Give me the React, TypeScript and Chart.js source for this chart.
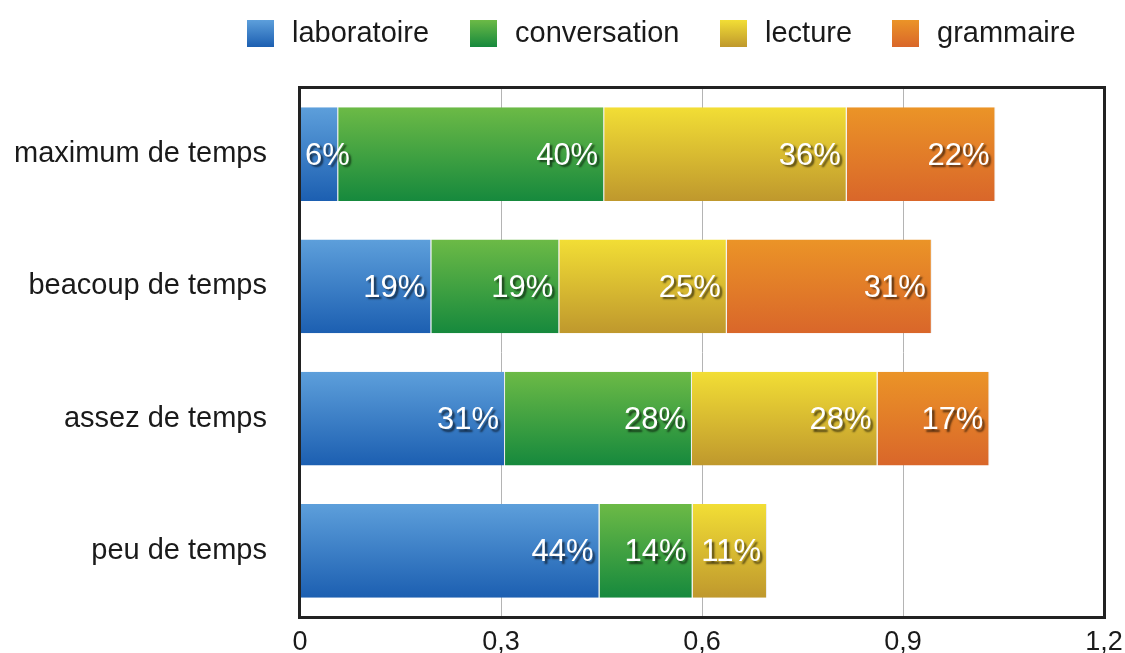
import React, { useEffect, useRef } from "react";
import { Chart, registerables } from "chart.js";

Chart.register(...registerables);

const categories = ["maximum de temps", "beacoup de temps", "assez de temps", "peu de temps"];
const seriesNames = ["laboratoire", "conversation", "lecture", "grammaire"];
const laboratoire = [0.057, 0.196, 0.306, 0.447];
const conversation = [0.397, 0.191, 0.279, 0.139];
const lecture = [0.362, 0.25, 0.277, 0.111];
const grammaire = [0.222, 0.306, 0.167, 0];
const laboratoireLabels = ["6%", "19%", "31%", "44%"];
const conversationLabels = ["40%", "19%", "28%", "14%"];
const lectureLabels = ["36%", "25%", "28%", "11%"];
const grammaireLabels = ["22%", "31%", "17%", ""];
const xTicks = [0, 0.3, 0.6, 0.9, 1.2];

const gradients: [string, string][] = [
  ["#5d9fdb", "#1c5fb1"],
  ["#6cba46", "#16893d"],
  ["#f2de35", "#bf982d"],
  ["#eb9427", "#d9662a"],
];

const FONT = "'Liberation Sans', Arial, Helvetica, sans-serif";
const BAR_PCT = 0.71;

export default function App() {
  const ref = useRef<HTMLCanvasElement | null>(null);

  useEffect(() => {
    document.body.style.margin = "0";
    const canvas = ref.current;
    if (!canvas) return;
    const values = [laboratoire, conversation, lecture, grammaire];
    const texts = [laboratoireLabels, conversationLabels, lectureLabels, grammaireLabels];

    const makeBg = (i: number) => (ctx: any) => {
      const chart = ctx.chart;
      const ys = chart.scales && chart.scales.y;
      if (!chart.chartArea || !ys || ctx.dataIndex === undefined) return gradients[i][1];
      const center = ys.getPixelForValue(ctx.dataIndex);
      const cat = (chart.chartArea.bottom - chart.chartArea.top) / categories.length;
      const h = cat * BAR_PCT;
      const g = chart.ctx.createLinearGradient(0, center - h / 2, 0, center + h / 2);
      g.addColorStop(0, gradients[i][0]);
      g.addColorStop(1, gradients[i][1]);
      return g;
    };

    const legendPlugin = {
      id: "customLegend",
      afterDraw(chart: any) {
        const c = chart.ctx;
        const boxX = [247, 470, 720, 892];
        c.save();
        c.font = `29px ${FONT}`;
        c.textBaseline = "middle";
        c.textAlign = "left";
        seriesNames.forEach((name, i) => {
          const x = boxX[i];
          const g = c.createLinearGradient(0, 20, 0, 47);
          g.addColorStop(0, gradients[i][0]);
          g.addColorStop(1, gradients[i][1]);
          c.fillStyle = g;
          c.fillRect(x, 20, 27, 27);
          c.fillStyle = "#1a1a1a";
          c.fillText(name, x + 45, 34);
        });
        c.restore();
      },
    };

    const labelPlugin = {
      id: "segLabels",
      afterDatasetsDraw(chart: any) {
        const c = chart.ctx;
        const area = chart.chartArea;
        c.save();
        c.font = `31px ${FONT}`;
        c.textBaseline = "middle";
        c.textAlign = "left";
        c.shadowColor = "rgba(0,0,0,0.6)";
        c.shadowOffsetX = 2.5;
        c.shadowOffsetY = 2.5;
        c.shadowBlur = 2;
        c.fillStyle = "#ffffff";
        chart.data.datasets.forEach((ds: any, di: number) => {
          const meta = chart.getDatasetMeta(di);
          meta.data.forEach((el: any, idx: number) => {
            const txt = texts[di][idx];
            if (!txt || !ds.data[idx]) return;
            const w = c.measureText(txt).width;
            let x = el.x - 6 - w;
            if (x < area.left + 5) x = area.left + 5;
            c.fillText(txt, x, el.y + 2);
          });
        });
        c.restore();
      },
      afterDraw(chart: any) {
        const c = chart.ctx;
        const a = chart.chartArea;
        c.save();
        c.strokeStyle = "#222222";
        c.lineWidth = 3;
        c.strokeRect(a.left - 0.5, a.top - 0.5, a.right - a.left + 1, a.bottom - a.top + 1);
        c.restore();
      },
    };

    const chart = new Chart(canvas, {
      type: "bar",
      data: {
        labels: categories,
        datasets: values.map((d, i) => ({
          label: seriesNames[i],
          data: d,
          backgroundColor: makeBg(i),
          borderColor: "rgba(235,235,235,0.9)",
          borderWidth: { top: 0, bottom: 0, left: 0, right: 1 },
          borderSkipped: false,
          categoryPercentage: 1,
          barPercentage: BAR_PCT,
        })),
      },
      options: {
        indexAxis: "y",
        responsive: false,
        animation: false,
        layout: { padding: { top: 88, right: 21, left: 0, bottom: 0 } },
        plugins: { legend: { display: false }, tooltip: { enabled: false } },
        scales: {
          x: {
            stacked: true,
            min: 0,
            max: 1.2,
            afterBuildTicks: (scale: any) => {
              scale.ticks = xTicks.map((v) => ({ value: v }));
            },
            afterFit: (scale: any) => {
              scale.height = 36;
              scale.paddingLeft = 0;
              scale.paddingRight = 0;
            },
            ticks: {
              color: "#1a1a1a",
              font: { size: 27, family: FONT },
              padding: 9,
              maxRotation: 0,
              callback: (v: any) => String(Number(v)).replace(".", ","),
            },
            grid: { color: "#b4b4b4", lineWidth: 1, drawTicks: false },
            border: { display: false },
          },
          y: {
            stacked: true,
            afterFit: (scale: any) => {
              scale.width = 300;
              scale.paddingTop = 0;
              scale.paddingBottom = 0;
            },
            ticks: {
              color: "#1a1a1a",
              font: { size: 29, family: FONT },
              padding: 33,
            },
            grid: { display: false, drawTicks: false },
            border: { display: false },
          },
        },
      },
      plugins: [legendPlugin, labelPlugin],
    } as any);

    return () => chart.destroy();
  }, []);

  return (
    <div style={{ width: 1125, height: 653 }}>
      <canvas ref={ref} width={1125} height={653} style={{ display: "block" }} />
    </div>
  );
}
